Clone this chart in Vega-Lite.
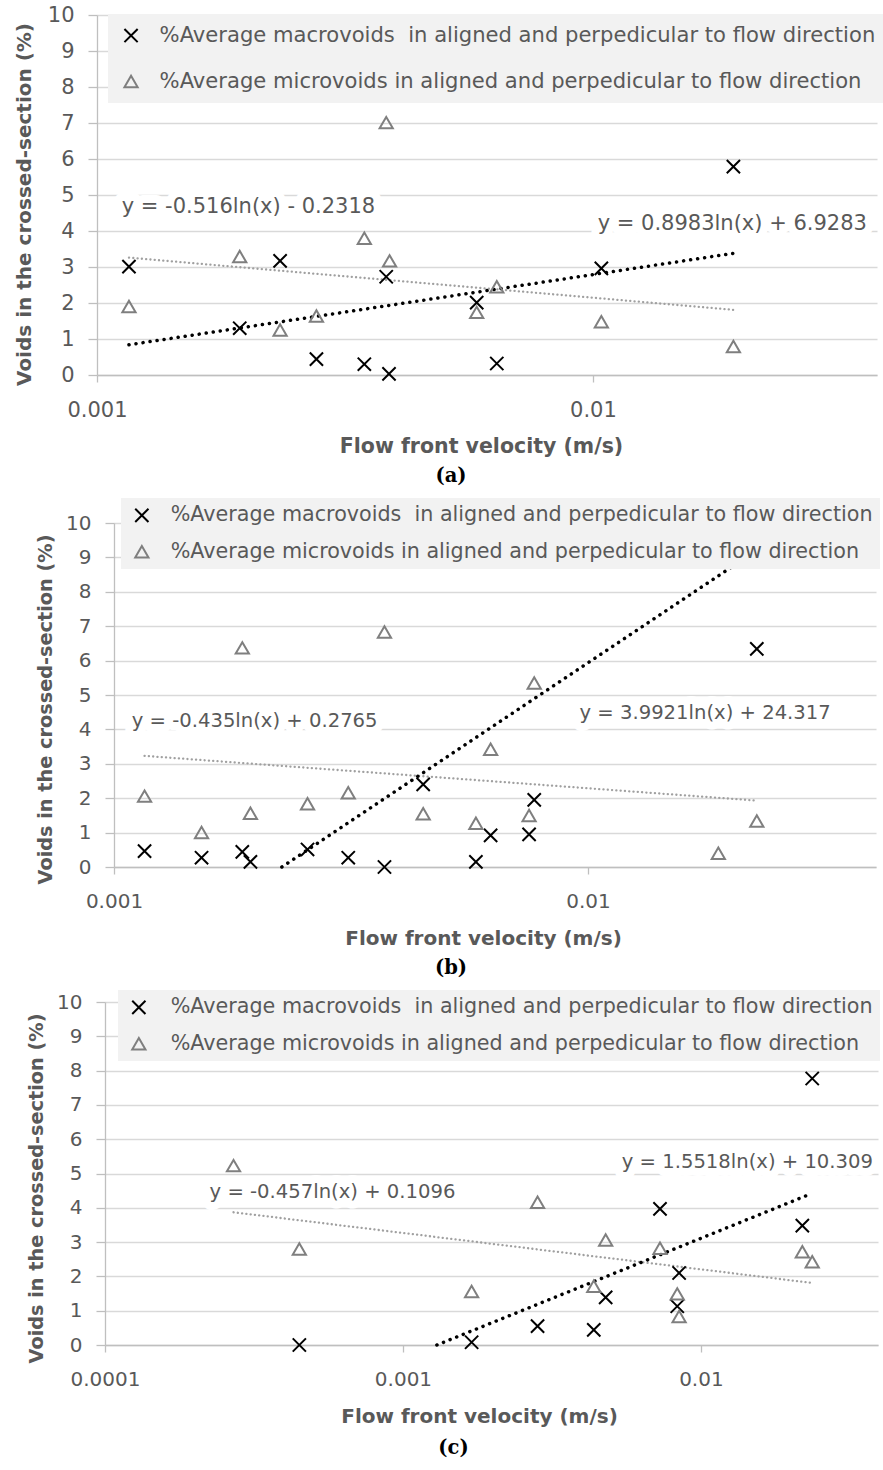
{
  "$schema": "https://vega.github.io/schema/vega-lite/v6.json",
  "padding": {"left": 0, "top": 4, "right": 0, "bottom": 0},
  "datasets": {
    "pts": [
      {"panel": "a", "series": "%Average macrovoids \u00a0in aligned and perpedicular to flow direction", "v": 0.00116, "y": 3.01},
      {"panel": "a", "series": "%Average macrovoids \u00a0in aligned and perpedicular to flow direction", "v": 0.00194, "y": 1.30},
      {"panel": "a", "series": "%Average macrovoids \u00a0in aligned and perpedicular to flow direction", "v": 0.00234, "y": 3.17},
      {"panel": "a", "series": "%Average macrovoids \u00a0in aligned and perpedicular to flow direction", "v": 0.00277, "y": 0.44},
      {"panel": "a", "series": "%Average macrovoids \u00a0in aligned and perpedicular to flow direction", "v": 0.00346, "y": 0.30},
      {"panel": "a", "series": "%Average macrovoids \u00a0in aligned and perpedicular to flow direction", "v": 0.00383, "y": 2.73},
      {"panel": "a", "series": "%Average macrovoids \u00a0in aligned and perpedicular to flow direction", "v": 0.00388, "y": 0.03},
      {"panel": "a", "series": "%Average macrovoids \u00a0in aligned and perpedicular to flow direction", "v": 0.00583, "y": 2.01},
      {"panel": "a", "series": "%Average macrovoids \u00a0in aligned and perpedicular to flow direction", "v": 0.0064, "y": 0.32},
      {"panel": "a", "series": "%Average macrovoids \u00a0in aligned and perpedicular to flow direction", "v": 0.0104, "y": 2.96},
      {"panel": "a", "series": "%Average macrovoids \u00a0in aligned and perpedicular to flow direction", "v": 0.0192, "y": 5.79},
      {"panel": "a", "series": "%Average microvoids in aligned and perpedicular to flow direction", "v": 0.00116, "y": 1.90},
      {"panel": "a", "series": "%Average microvoids in aligned and perpedicular to flow direction", "v": 0.00194, "y": 3.29},
      {"panel": "a", "series": "%Average microvoids in aligned and perpedicular to flow direction", "v": 0.00234, "y": 1.25},
      {"panel": "a", "series": "%Average microvoids in aligned and perpedicular to flow direction", "v": 0.00277, "y": 1.64},
      {"panel": "a", "series": "%Average microvoids in aligned and perpedicular to flow direction", "v": 0.00346, "y": 3.80},
      {"panel": "a", "series": "%Average microvoids in aligned and perpedicular to flow direction", "v": 0.00383, "y": 7.01},
      {"panel": "a", "series": "%Average microvoids in aligned and perpedicular to flow direction", "v": 0.00389, "y": 3.17},
      {"panel": "a", "series": "%Average microvoids in aligned and perpedicular to flow direction", "v": 0.00583, "y": 1.74},
      {"panel": "a", "series": "%Average microvoids in aligned and perpedicular to flow direction", "v": 0.0064, "y": 2.45},
      {"panel": "a", "series": "%Average microvoids in aligned and perpedicular to flow direction", "v": 0.0104, "y": 1.48},
      {"panel": "a", "series": "%Average microvoids in aligned and perpedicular to flow direction", "v": 0.0192, "y": 0.79},

      {"panel": "b", "series": "%Average macrovoids \u00a0in aligned and perpedicular to flow direction", "v": 0.00116, "y": 0.46},
      {"panel": "b", "series": "%Average macrovoids \u00a0in aligned and perpedicular to flow direction", "v": 0.00153, "y": 0.27},
      {"panel": "b", "series": "%Average macrovoids \u00a0in aligned and perpedicular to flow direction", "v": 0.001865, "y": 0.44},
      {"panel": "b", "series": "%Average macrovoids \u00a0in aligned and perpedicular to flow direction", "v": 0.00194, "y": 0.15},
      {"panel": "b", "series": "%Average macrovoids \u00a0in aligned and perpedicular to flow direction", "v": 0.00256, "y": 0.51},
      {"panel": "b", "series": "%Average macrovoids \u00a0in aligned and perpedicular to flow direction", "v": 0.00312, "y": 0.27},
      {"panel": "b", "series": "%Average macrovoids \u00a0in aligned and perpedicular to flow direction", "v": 0.00372, "y": 0.0},
      {"panel": "b", "series": "%Average macrovoids \u00a0in aligned and perpedicular to flow direction", "v": 0.00449, "y": 2.40},
      {"panel": "b", "series": "%Average macrovoids \u00a0in aligned and perpedicular to flow direction", "v": 0.0058, "y": 0.15},
      {"panel": "b", "series": "%Average macrovoids \u00a0in aligned and perpedicular to flow direction", "v": 0.00623, "y": 0.92},
      {"panel": "b", "series": "%Average macrovoids \u00a0in aligned and perpedicular to flow direction", "v": 0.00751, "y": 0.95},
      {"panel": "b", "series": "%Average macrovoids \u00a0in aligned and perpedicular to flow direction", "v": 0.0077, "y": 1.95},
      {"panel": "b", "series": "%Average macrovoids \u00a0in aligned and perpedicular to flow direction", "v": 0.0227, "y": 6.34},
      {"panel": "b", "series": "%Average microvoids in aligned and perpedicular to flow direction", "v": 0.00116, "y": 2.06},
      {"panel": "b", "series": "%Average microvoids in aligned and perpedicular to flow direction", "v": 0.00153, "y": 1.00},
      {"panel": "b", "series": "%Average microvoids in aligned and perpedicular to flow direction", "v": 0.001865, "y": 6.37},
      {"panel": "b", "series": "%Average microvoids in aligned and perpedicular to flow direction", "v": 0.00194, "y": 1.56},
      {"panel": "b", "series": "%Average microvoids in aligned and perpedicular to flow direction", "v": 0.00256, "y": 1.84},
      {"panel": "b", "series": "%Average microvoids in aligned and perpedicular to flow direction", "v": 0.00312, "y": 2.16},
      {"panel": "b", "series": "%Average microvoids in aligned and perpedicular to flow direction", "v": 0.00372, "y": 6.83},
      {"panel": "b", "series": "%Average microvoids in aligned and perpedicular to flow direction", "v": 0.00449, "y": 1.55},
      {"panel": "b", "series": "%Average microvoids in aligned and perpedicular to flow direction", "v": 0.0058, "y": 1.27},
      {"panel": "b", "series": "%Average microvoids in aligned and perpedicular to flow direction", "v": 0.00623, "y": 3.42},
      {"panel": "b", "series": "%Average microvoids in aligned and perpedicular to flow direction", "v": 0.00751, "y": 1.50},
      {"panel": "b", "series": "%Average microvoids in aligned and perpedicular to flow direction", "v": 0.0077, "y": 5.35},
      {"panel": "b", "series": "%Average microvoids in aligned and perpedicular to flow direction", "v": 0.01883, "y": 0.40},
      {"panel": "b", "series": "%Average microvoids in aligned and perpedicular to flow direction", "v": 0.0227, "y": 1.34},

      {"panel": "c", "series": "%Average macrovoids \u00a0in aligned and perpedicular to flow direction", "v": 0.000449, "y": 0.0},
      {"panel": "c", "series": "%Average macrovoids \u00a0in aligned and perpedicular to flow direction", "v": 0.0017, "y": 0.08},
      {"panel": "c", "series": "%Average macrovoids \u00a0in aligned and perpedicular to flow direction", "v": 0.00283, "y": 0.55},
      {"panel": "c", "series": "%Average macrovoids \u00a0in aligned and perpedicular to flow direction", "v": 0.00437, "y": 0.44},
      {"panel": "c", "series": "%Average macrovoids \u00a0in aligned and perpedicular to flow direction", "v": 0.00479, "y": 1.39},
      {"panel": "c", "series": "%Average macrovoids \u00a0in aligned and perpedicular to flow direction", "v": 0.00729, "y": 3.97},
      {"panel": "c", "series": "%Average macrovoids \u00a0in aligned and perpedicular to flow direction", "v": 0.00833, "y": 1.13},
      {"panel": "c", "series": "%Average macrovoids \u00a0in aligned and perpedicular to flow direction", "v": 0.00845, "y": 2.10},
      {"panel": "c", "series": "%Average macrovoids \u00a0in aligned and perpedicular to flow direction", "v": 0.0219, "y": 3.48},
      {"panel": "c", "series": "%Average macrovoids \u00a0in aligned and perpedicular to flow direction", "v": 0.02364, "y": 7.77},
      {"panel": "c", "series": "%Average microvoids in aligned and perpedicular to flow direction", "v": 0.00027, "y": 5.23},
      {"panel": "c", "series": "%Average microvoids in aligned and perpedicular to flow direction", "v": 0.000449, "y": 2.80},
      {"panel": "c", "series": "%Average microvoids in aligned and perpedicular to flow direction", "v": 0.0017, "y": 1.56},
      {"panel": "c", "series": "%Average microvoids in aligned and perpedicular to flow direction", "v": 0.00283, "y": 4.16},
      {"panel": "c", "series": "%Average microvoids in aligned and perpedicular to flow direction", "v": 0.00437, "y": 1.71},
      {"panel": "c", "series": "%Average microvoids in aligned and perpedicular to flow direction", "v": 0.00479, "y": 3.06},
      {"panel": "c", "series": "%Average microvoids in aligned and perpedicular to flow direction", "v": 0.00729, "y": 2.82},
      {"panel": "c", "series": "%Average microvoids in aligned and perpedicular to flow direction", "v": 0.00833, "y": 1.49},
      {"panel": "c", "series": "%Average microvoids in aligned and perpedicular to flow direction", "v": 0.00845, "y": 0.83},
      {"panel": "c", "series": "%Average microvoids in aligned and perpedicular to flow direction", "v": 0.0219, "y": 2.72},
      {"panel": "c", "series": "%Average microvoids in aligned and perpedicular to flow direction", "v": 0.02364, "y": 2.43}
    ],
    "trend": [
      {"panel": "a", "series": "macro", "v": 0.00116, "y": 0.84},
      {"panel": "a", "series": "macro", "v": 0.0192, "y": 3.38},
      {"panel": "a", "series": "micro", "v": 0.00116, "y": 3.26},
      {"panel": "a", "series": "micro", "v": 0.0192, "y": 1.81},
      {"panel": "b", "series": "macro", "v": 0.00226, "y": 0.0},
      {"panel": "b", "series": "macro", "v": 0.0227, "y": 9.21},
      {"panel": "b", "series": "micro", "v": 0.00116, "y": 3.23},
      {"panel": "b", "series": "micro", "v": 0.0227, "y": 1.93},
      {"panel": "c", "series": "macro", "v": 0.0013, "y": 0.0},
      {"panel": "c", "series": "macro", "v": 0.0236, "y": 4.42},
      {"panel": "c", "series": "micro", "v": 0.00027, "y": 3.87},
      {"panel": "c", "series": "micro", "v": 0.0236, "y": 1.81}
    ],
    "eq": [
      {"panel": "a", "label": "y = -0.516ln(x) - 0.2318", "v": 0.00202, "y": 4.67},
      {"panel": "a", "label": "y = 0.8983ln(x) + 6.9283", "v": 0.0191, "y": 4.19},
      {"panel": "b", "label": "y = -0.435ln(x) + 0.2765", "v": 0.00198, "y": 4.24},
      {"panel": "b", "label": "y = 3.9921ln(x) + 24.317", "v": 0.01766, "y": 4.48},
      {"panel": "c", "label": "y = -0.457ln(x) + 0.1096", "v": 0.00058, "y": 4.46},
      {"panel": "c", "label": "y = 1.5518ln(x) + 10.309", "v": 0.01432, "y": 5.33}
    ]
  },
  "vconcat": [
    {
      "hconcat": [
        {"width": 97, "height": 10, "data": {"values": []}, "mark": "point"},
        {
          "width": 780, "height": 360,
          "title": {"text": "(a)", "orient": "bottom", "anchor": "middle", "frame": "group", "dx": -36, "offset": 10.5},
          "encoding": {
            "x": {"field": "v", "type": "quantitative", "scale": {"type": "log", "domain": [0.001, 0.0374], "nice": false},
                  "axis": {"values": [0.001, 0.01], "format": ".4~f", "title": "Flow front velocity (m/s)", "titleX": 384, "labelPadding": 17.5, "titlePadding": 15.5}},
            "y": {"field": "y", "type": "quantitative", "scale": {"domain": [0, 10], "nice": false},
                  "axis": {"values": [0,1,2,3,4,5,6,7,8,9,10], "tickCount": 12, "labelOverlap": false, "title": "Voids in the crossed-section (%)", "titleY": 189, "titlePadding": 13}}
          },
          "layer": [
            {
              "data": {"name": "eq"}, "transform": [{"filter": {"field": "panel", "equal": "a"}}],
              "mark": {"type": "text", "font": "DejaVu Sans", "fontSize": 21, "fill": "white", "stroke": "white", "strokeWidth": 16, "strokeJoin": "round"},
              "encoding": {"text": {"field": "label"}}
            },
            {
              "data": {"name": "eq"}, "transform": [{"filter": {"field": "panel", "equal": "a"}}],
              "mark": {"type": "text", "font": "DejaVu Sans", "fontSize": 21, "fill": "#595959"},
              "encoding": {"text": {"field": "label"}}
            },
            {
              "data": {"name": "trend"}, "transform": [{"filter": "datum.panel === 'a' && datum.series === 'micro'"}],
              "mark": {"type": "line", "stroke": "#a0a0a0", "strokeWidth": 2.3, "strokeDash": [0.1, 4.2], "strokeCap": "round"},
              "encoding": {}
            },
            {
              "data": {"name": "trend"}, "transform": [{"filter": "datum.panel === 'a' && datum.series === 'macro'"}],
              "mark": {"type": "line", "stroke": "#000000", "strokeWidth": 3.5, "strokeDash": [0.1, 7], "strokeCap": "round"},
              "encoding": {}
            },
            {
              "data": {"name": "pts"}, "transform": [{"filter": {"field": "panel", "equal": "a"}}],
              "mark": {"type": "point", "filled": false, "size": 175, "strokeWidth": 2, "opacity": 1},
              "encoding": {
                "shape": {"field": "series", "type": "nominal",
                  "scale": {"domain": ["%Average macrovoids \u00a0in aligned and perpedicular to flow direction", "%Average microvoids in aligned and perpedicular to flow direction"], "range": ["M-1,-1L1,1M-1,1L1,-1", "triangle-up"]},
                  "legend": {"orient": "none", "legendX": 108, "legendY": -1, "padding": 11, "symbolOffset": 1.5, "rowPadding": 23, "labelOffset": 18, "labelFontSize": 21.1}},
                "color": {"field": "series", "type": "nominal",
                  "scale": {"domain": ["%Average macrovoids \u00a0in aligned and perpedicular to flow direction", "%Average microvoids in aligned and perpedicular to flow direction"], "range": ["#000000", "#7f7f7f"]},
                  "legend": {"orient": "none", "legendX": 108, "legendY": -1, "padding": 11, "symbolOffset": 1.5, "rowPadding": 23, "labelOffset": 18, "labelFontSize": 21.1}}
              }
            }
          ]
        }
      ],
      "spacing": 0, "bounds": "flush"
    },
    {
      "hconcat": [
        {"width": 114, "height": 10, "data": {"values": []}, "mark": "point"},
        {
          "width": 762, "height": 344,
          "title": {"text": "(b)", "orient": "bottom", "anchor": "middle", "frame": "group", "dx": -44, "offset": 11.2},
          "encoding": {
            "x": {"field": "v", "type": "quantitative", "scale": {"type": "log", "domain": [0.001, 0.0405], "nice": false},
                  "axis": {"values": [0.001, 0.01], "format": ".4~f", "title": "Flow front velocity (m/s)", "titleX": 369, "labelPadding": 17.7, "titlePadding": 16.5, "labelFontSize": 20, "titleFontSize": 20}},
            "y": {"field": "y", "type": "quantitative", "scale": {"domain": [0, 10], "nice": false},
                  "axis": {"values": [0,1,2,3,4,5,6,7,8,9,10], "tickCount": 12, "labelOverlap": false, "labelFontSize": 20, "titleFontSize": 19.3, "title": "Voids in the crossed-section (%)", "titleY": 186, "titlePadding": 10}}
          },
          "layer": [
            {
              "data": {"name": "eq"}, "transform": [{"filter": {"field": "panel", "equal": "b"}}],
              "mark": {"type": "text", "font": "DejaVu Sans", "fontSize": 19.6, "fill": "white", "stroke": "white", "strokeWidth": 16, "strokeJoin": "round"},
              "encoding": {"text": {"field": "label"}}
            },
            {
              "data": {"name": "eq"}, "transform": [{"filter": {"field": "panel", "equal": "b"}}],
              "mark": {"type": "text", "font": "DejaVu Sans", "fontSize": 19.6, "fill": "#595959"},
              "encoding": {"text": {"field": "label"}}
            },
            {
              "data": {"name": "trend"}, "transform": [{"filter": "datum.panel === 'b' && datum.series === 'micro'"}],
              "mark": {"type": "line", "stroke": "#a0a0a0", "strokeWidth": 2.3, "strokeDash": [0.1, 4.2], "strokeCap": "round"},
              "encoding": {}
            },
            {
              "data": {"name": "trend"}, "transform": [{"filter": "datum.panel === 'b' && datum.series === 'macro'"}],
              "mark": {"type": "line", "stroke": "#000000", "strokeWidth": 3.5, "strokeDash": [0.1, 7], "strokeCap": "round"},
              "encoding": {}
            },
            {
              "data": {"name": "pts"}, "transform": [{"filter": {"field": "panel", "equal": "b"}}],
              "mark": {"type": "point", "filled": false, "size": 175, "strokeWidth": 2, "opacity": 1},
              "encoding": {
                "shape": {"field": "series", "type": "nominal",
                  "scale": {"domain": ["%Average macrovoids \u00a0in aligned and perpedicular to flow direction", "%Average microvoids in aligned and perpedicular to flow direction"], "range": ["M-1,-1L1,1M-1,1L1,-1", "triangle-up"]},
                  "legend": {"orient": "none", "legendX": 121, "legendY": -25, "padding": 7, "symbolOffset": 3.5, "rowPadding": 14.3, "labelOffset": 18.5, "labelFontSize": 20.7}},
                "color": {"field": "series", "type": "nominal",
                  "scale": {"domain": ["%Average macrovoids \u00a0in aligned and perpedicular to flow direction", "%Average microvoids in aligned and perpedicular to flow direction"], "range": ["#000000", "#7f7f7f"]},
                  "legend": {"orient": "none", "legendX": 121, "legendY": -25, "padding": 7, "symbolOffset": 3.5, "rowPadding": 14.3, "labelOffset": 18.5, "labelFontSize": 20.7}}
              }
            }
          ]
        }
      ],
      "spacing": 0, "bounds": "flush"
    },
    {
      "hconcat": [
        {"width": 105, "height": 10, "data": {"values": []}, "mark": "point"},
        {
          "width": 773, "height": 343,
          "title": {"text": "(c)", "orient": "bottom", "anchor": "middle", "frame": "group", "dx": -38, "offset": 13},
          "encoding": {
            "x": {"field": "v", "type": "quantitative", "scale": {"type": "log", "domain": [0.0001, 0.0393], "nice": false},
                  "axis": {"values": [0.0001, 0.001, 0.01], "format": ".4~f", "title": "Flow front velocity (m/s)", "titleX": 374, "labelPadding": 17, "titlePadding": 17, "labelFontSize": 20, "titleFontSize": 20}},
            "y": {"field": "y", "type": "quantitative", "scale": {"domain": [0, 10], "nice": false},
                  "axis": {"values": [0,1,2,3,4,5,6,7,8,9,10], "tickCount": 12, "labelOverlap": false, "labelFontSize": 20, "titleFontSize": 19.3, "title": "Voids in the crossed-section (%)", "titleY": 186, "titlePadding": 10}}
          },
          "layer": [
            {
              "data": {"name": "eq"}, "transform": [{"filter": {"field": "panel", "equal": "c"}}],
              "mark": {"type": "text", "font": "DejaVu Sans", "fontSize": 19.6, "fill": "white", "stroke": "white", "strokeWidth": 16, "strokeJoin": "round"},
              "encoding": {"text": {"field": "label"}}
            },
            {
              "data": {"name": "eq"}, "transform": [{"filter": {"field": "panel", "equal": "c"}}],
              "mark": {"type": "text", "font": "DejaVu Sans", "fontSize": 19.6, "fill": "#595959"},
              "encoding": {"text": {"field": "label"}}
            },
            {
              "data": {"name": "trend"}, "transform": [{"filter": "datum.panel === 'c' && datum.series === 'micro'"}],
              "mark": {"type": "line", "stroke": "#a0a0a0", "strokeWidth": 2.3, "strokeDash": [0.1, 4.2], "strokeCap": "round"},
              "encoding": {}
            },
            {
              "data": {"name": "trend"}, "transform": [{"filter": "datum.panel === 'c' && datum.series === 'macro'"}],
              "mark": {"type": "line", "stroke": "#000000", "strokeWidth": 3.5, "strokeDash": [0.1, 7], "strokeCap": "round"},
              "encoding": {}
            },
            {
              "data": {"name": "pts"}, "transform": [{"filter": {"field": "panel", "equal": "c"}}],
              "mark": {"type": "point", "filled": false, "size": 175, "strokeWidth": 2, "opacity": 1},
              "encoding": {
                "shape": {"field": "series", "type": "nominal",
                  "scale": {"domain": ["%Average macrovoids \u00a0in aligned and perpedicular to flow direction", "%Average microvoids in aligned and perpedicular to flow direction"], "range": ["M-1,-1L1,1M-1,1L1,-1", "triangle-up"]},
                  "legend": {"orient": "none", "legendX": 118, "legendY": -12, "padding": 7, "symbolOffset": 3.5, "rowPadding": 14.3, "labelOffset": 21.5, "labelFontSize": 20.7}},
                "color": {"field": "series", "type": "nominal",
                  "scale": {"domain": ["%Average macrovoids \u00a0in aligned and perpedicular to flow direction", "%Average microvoids in aligned and perpedicular to flow direction"], "range": ["#000000", "#7f7f7f"]},
                  "legend": {"orient": "none", "legendX": 118, "legendY": -12, "padding": 7, "symbolOffset": 3.5, "rowPadding": 14.3, "labelOffset": 21.5, "labelFontSize": 20.7}}
              }
            }
          ]
        }
      ],
      "spacing": 0, "bounds": "flush"
    }
  ],
  "spacing": 12,
  "resolve": {"scale": {"color": "independent", "shape": "independent", "x": "independent", "y": "independent"}, "legend": {"color": "independent", "shape": "independent"}},
  "config": {
    "view": {"stroke": null},
    "font": "DejaVu Sans",
    "title": {"font": "DejaVu Serif", "fontWeight": "bold", "fontSize": 19.5, "color": "#000000"},
    "axis": {"labelFont": "DejaVu Sans", "labelColor": "#595959", "labelFontSize": 21, "labelOverlap": false, "domainColor": "#bfbfbf", "tickColor": "#bfbfbf", "gridColor": "#d9d9d9", "domainWidth": 1.3, "gridWidth": 1.3, "tickWidth": 1.3, "labelFlush": false},
    "axisX": {"grid": false, "tickSize": 7, "titleFont": "DejaVu Sans", "titleFontWeight": "bold", "titleFontSize": 20.5, "titleColor": "#595959"},
    "axisY": {"grid": true, "tickSize": 9, "labelPadding": 14, "titleFont": "DejaVu Sans", "titleFontWeight": "bold", "titleFontSize": 20, "titleColor": "#595959"},
    "legend": {"title": null, "fillColor": "#f2f2f2", "labelFont": "DejaVu Sans", "labelColor": "#595959", "labelLimit": 1000, "symbolSize": 175, "symbolStrokeWidth": 2, "symbolFillColor": "transparent"}
  }
}
